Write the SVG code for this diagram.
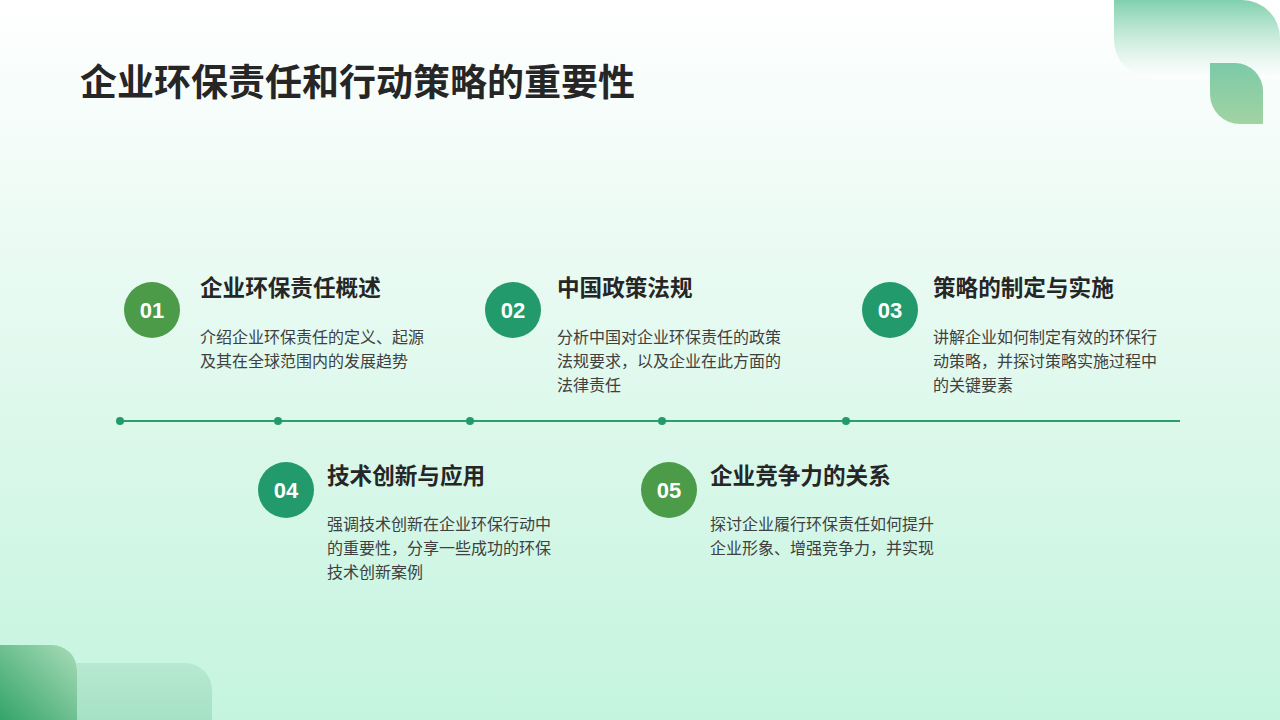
<svg xmlns="http://www.w3.org/2000/svg" width="1280" height="720" viewBox="0 0 1280 720">
<defs>
<linearGradient id="bg" x1="0" y1="0" x2="0" y2="1">
<stop offset="0" stop-color="#ffffff"/>
<stop offset="0.2" stop-color="#f3fcf8"/>
<stop offset="1" stop-color="#c4f4de"/>
</linearGradient>
<linearGradient id="tr1" x1="0" y1="0" x2="0" y2="1">
<stop offset="0" stop-color="#80d0ad"/>
<stop offset="1" stop-color="#ffffff" stop-opacity="0.6"/>
</linearGradient>
<linearGradient id="tr2" x1="0" y1="0" x2="0" y2="1">
<stop offset="0" stop-color="#7ccaa8"/>
<stop offset="1" stop-color="#a2d3a2"/>
</linearGradient>
<linearGradient id="bl1" x1="0" y1="1" x2="1" y2="0">
<stop offset="0" stop-color="#34a46a"/>
<stop offset="1" stop-color="#a9dcb9"/>
</linearGradient>
<linearGradient id="bl2" x1="0" y1="0" x2="0" y2="1">
<stop offset="0" stop-color="#b2e6cc"/>
<stop offset="1" stop-color="#9edcbf"/>
</linearGradient>
<style>
.title{font-family:"Noto Sans CJK SC","Noto Sans",sans-serif;font-weight:700;font-size:37px;fill:#262626}
.head{font-family:"Noto Sans CJK SC","Noto Sans",sans-serif;font-weight:700;font-size:22.6px;fill:#262626}
.body{font-family:"Noto Sans CJK SC","Noto Sans",sans-serif;font-size:16px;fill:#404040}
.num{font-family:"Liberation Sans","Noto Sans",sans-serif;font-weight:700;font-size:22px;fill:#ffffff;text-anchor:middle}
.green{fill:#4b9b48}
.teal{fill:#229a6b}
.dot{fill:#229a6b}
</style>
</defs>
<rect width="1280" height="720" fill="url(#bg)"/>
<g id="decor">
<path d="M1114,0 H1242 A38,38 0 0 1 1280,38 V78 H1152 A38,38 0 0 1 1114,40 Z" fill="url(#tr1)"/>
<path d="M1210,63 H1235 A28,28 0 0 1 1263,91 V124 H1240 A30,30 0 0 1 1210,94 Z" fill="url(#tr2)"/>
<path d="M77,663 H185 A27,27 0 0 1 212,690 V720 H77 Z" fill="url(#bl2)" opacity="0.8"/>
<path d="M0,645 H52 A25,25 0 0 1 77,670 V720 H0 Z" fill="url(#bl1)"/>
</g>
<text class="title" x="80" y="96">企业环保责任和行动策略的重要性</text>
<g id="connectors">
<line x1="120" y1="421" x2="1180" y2="421" stroke="#2a9e6e" stroke-width="2"/>
<circle class="dot" cx="120" cy="421" r="4"/>
<circle class="dot" cx="278" cy="421" r="4"/>
<circle class="dot" cx="470" cy="421" r="4"/>
<circle class="dot" cx="662" cy="421" r="4"/>
<circle class="dot" cx="846" cy="421" r="4"/>
</g>
<g id="item01">
<circle class="green" cx="152" cy="310" r="28"/>
<text class="num" x="152" y="318">01</text>
<text class="head" x="200" y="296">企业环保责任概述</text>
<text class="body" x="200" y="343">介绍企业环保责任的定义、起源</text>
<text class="body" x="200" y="367">及其在全球范围内的发展趋势</text>
</g>
<g id="item02">
<circle class="teal" cx="513" cy="310" r="28"/>
<text class="num" x="513" y="318">02</text>
<text class="head" x="557" y="296">中国政策法规</text>
<text class="body" x="557" y="343">分析中国对企业环保责任的政策</text>
<text class="body" x="557" y="367">法规要求，以及企业在此方面的</text>
<text class="body" x="557" y="391">法律责任</text>
</g>
<g id="item03">
<circle class="teal" cx="890" cy="310" r="28"/>
<text class="num" x="890" y="318">03</text>
<text class="head" x="933" y="296">策略的制定与实施</text>
<text class="body" x="933" y="343">讲解企业如何制定有效的环保行</text>
<text class="body" x="933" y="367">动策略，并探讨策略实施过程中</text>
<text class="body" x="933" y="391">的关键要素</text>
</g>
<g id="item04">
<circle class="teal" cx="286" cy="490" r="28"/>
<text class="num" x="286" y="498">04</text>
<text class="head" x="327" y="484">技术创新与应用</text>
<text class="body" x="327" y="530">强调技术创新在企业环保行动中</text>
<text class="body" x="327" y="554">的重要性，分享一些成功的环保</text>
<text class="body" x="327" y="578">技术创新案例</text>
</g>
<g id="item05">
<circle class="green" cx="669" cy="490" r="28"/>
<text class="num" x="669" y="498">05</text>
<text class="head" x="710" y="484">企业竞争力的关系</text>
<text class="body" x="710" y="530">探讨企业履行环保责任如何提升</text>
<text class="body" x="710" y="554">企业形象、增强竞争力，并实现</text>
</g>
</svg>
